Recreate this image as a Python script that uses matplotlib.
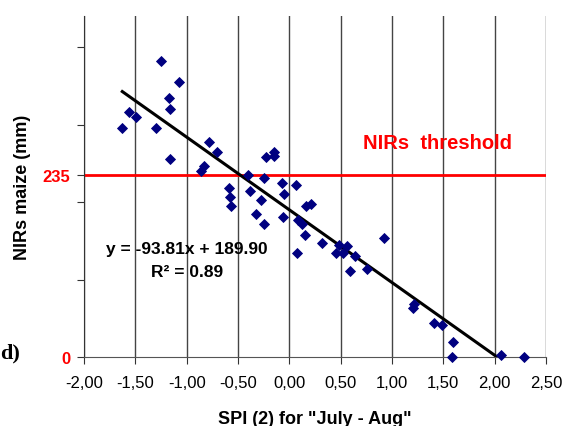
import matplotlib
matplotlib.use('Agg')
import matplotlib.pyplot as plt
import numpy as np
from matplotlib.ticker import FuncFormatter

plt.rcParams['font.family'] = ['Liberation Sans', 'DejaVu Sans']

# SPI (2) for July - Aug vs NIRs maize (mm)
spi = [-1.25, -1.075, -1.172, -1.159, -1.562, -1.489, -1.627, -1.299, -1.159,
       -0.781, -0.702, -0.828, -0.856, -0.588, -0.575, -0.573, -0.400, -0.386,
       -0.245, -0.278, -0.320, -0.244, -0.232, -0.154, -0.149, -0.074, -0.055,
       0.069, -0.059, 0.167, 0.209, 0.089, 0.128, 0.150, 0.072, 0.323, 0.479,
       0.559, 0.457, 0.526, 0.640, 0.591, 0.759, 0.919, 1.211, 1.200, 1.406,
       1.490, 1.594, 1.581, 2.057, 2.289]
nirs = [381.5, 354.7, 334.0, 320.6, 316.7, 310.3, 296.1, 296.1, 255.6,
        277.0, 264.3, 246.0, 239.5, 218.2, 205.9, 195.0, 235.4, 213.9,
        230.9, 202.1, 184.9, 171.7, 257.6, 264.0, 259.9, 224.7, 209.8,
        222.3, 180.5, 195.4, 197.5, 176.9, 171.1, 157.5, 134.3, 146.8, 144.6,
        143.7, 134.0, 134.0, 130.1, 111.0, 113.0, 153.3, 68.4, 62.6, 43.9,
        41.3, 19.0, 0.0, 2.6, 0.0]

slope = -93.81
intercept = 189.90
r2 = 0.89
threshold = 235

fig = plt.figure(figsize=(5.64, 4.27), dpi=100)
ax = fig.add_axes([84/564, 1-358/427, 462/564, 341/427])

ax.set_xlim(-2.0, 2.5)
ax.set_ylim(0, 440)

# vertical grid
ax.set_xticks(np.arange(-2.0, 2.51, 0.5))
ax.xaxis.grid(True, color='#444444', linewidth=1)
ax.xaxis.set_major_formatter(FuncFormatter(lambda v, p: f'{v:.2f}'.replace('.', ',')))

ax.set_yticks([0, 100, 200, threshold, 300, 400])
ax.set_yticklabels(['0', '', '', str(threshold), '', ''])
for lab in ax.get_yticklabels():
    lab.set_color('red')
    lab.set_fontweight('bold')
    lab.set_fontsize(12)
ax.yaxis.get_major_ticks()[3].tick1line.set_color('red')
ax.yaxis.get_major_ticks()[3].tick1line.set_markeredgewidth(2)

ax.tick_params(axis='x', length=5, labelsize=12, pad=8, color='#333333')
ax.tick_params(axis='y', length=5, pad=5, color='#333333')

for s in ['top', 'right']:
    ax.spines[s].set_visible(False)
ax.spines['left'].set_color('#333333')
ax.spines['bottom'].set_color('#555555')

ax.axhline(threshold, color='red', linewidth=2, zorder=2)

ax.plot(spi, nirs, linestyle='none', marker='D', markersize=5.2,
        color='#000080', markeredgewidth=0.6, clip_on=False, zorder=4)

xf = np.array([min(spi), max(spi)])
ax.plot(xf, slope*xf + intercept, color='black', linewidth=2.2, zorder=3)

ax.text(-1.0, 140, f'y = {slope:.2f}x + {intercept:.2f}', ha='center', va='center',
        fontsize=12.5, fontweight='bold')
ax.text(-1.0, 110, f'R² = {r2:.2f}', ha='center', va='center',
        fontsize=12.5, fontweight='bold')
ax.text(1.44, 277, 'NIRs  threshold', ha='center', va='center', color='red',
        fontsize=14.5, fontweight='bold')

ax.set_xlabel('SPI (2) for "July - Aug"', fontsize=13, fontweight='bold', labelpad=14)
ax.set_ylabel('NIRs maize (mm)', fontsize=13, fontweight='bold', labelpad=8)

fig.text(0.0, 1-353/427, 'd)', ha='left', va='center', fontsize=16,
         fontweight='bold', family='Liberation Serif')

fig.savefig('out.png', dpi=100)
